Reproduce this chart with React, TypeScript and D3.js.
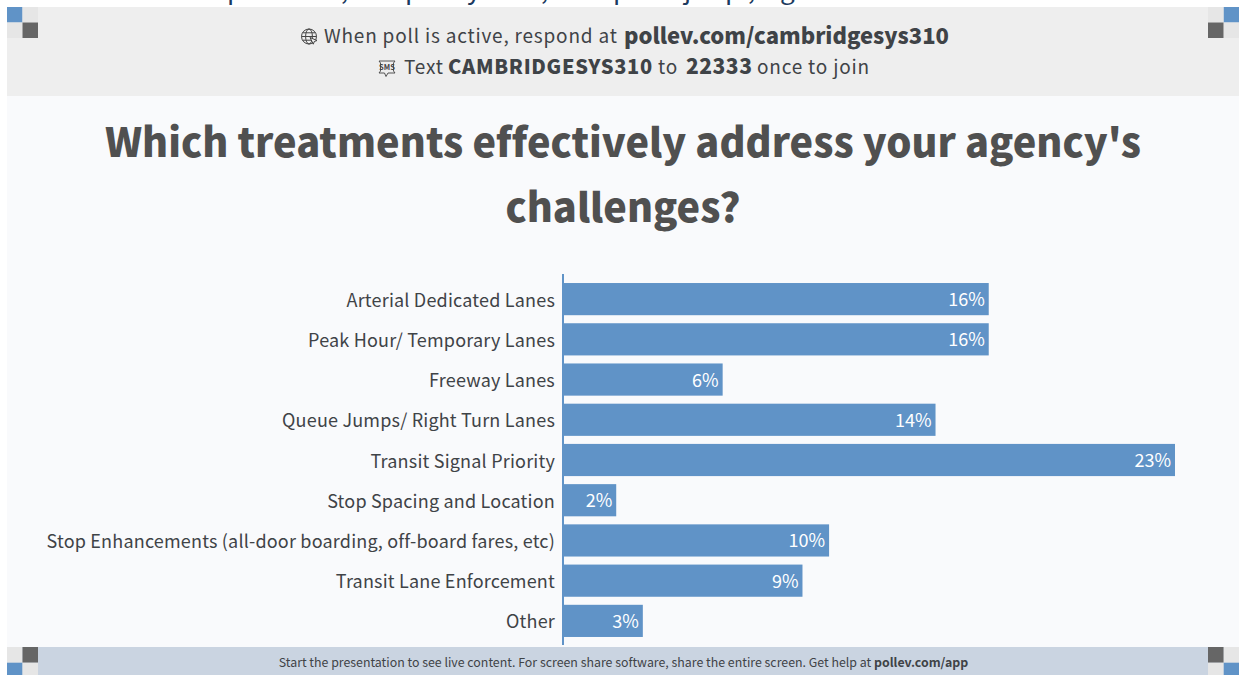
import React from "react";
import * as d3 from "d3";

const categories = [
  "Arterial Dedicated Lanes",
  "Peak Hour/ Temporary Lanes",
  "Freeway Lanes",
  "Queue Jumps/ Right Turn Lanes",
  "Transit Signal Priority",
  "Stop Spacing and Location",
  "Stop Enhancements (all-door boarding, off-board fares, etc)",
  "Transit Lane Enforcement",
  "Other",
];
const values = [16, 16, 6, 14, 23, 2, 10, 9, 3];

// Only the descenders of the line cut off at the top edge can be read.
const croppedGlyphs = ["p", ",", "p", "y", ",", "p", "j", "p", ",", "g"];
const croppedGlyphX = [227, 341, 405, 467, 541, 613, 684, 725, 748, 780];

const FONT = "'Noto Sans CJK SC', 'Noto Sans', sans-serif";
const W = 1239;
const H = 675;
const BLUE = "#6093c7";
const DARK = "#666666";
const LIGHT = "#e6e6e6";
const TEXT = "#3f4347";
const TITLE = "#505050";

const x = d3.scaleLinear().domain([0, 23]).range([563, 1175]);
const y = d3.scaleBand<string>().domain(categories).range([279, 641]).paddingInner(0.2).paddingOuter(0.1);

function Corner({ cx, cy, flipX, flipY }: { cx: number; cy: number; flipX: boolean; flipY: boolean }) {
  const s = 15.5;
  const ax = flipX ? cx - s : cx;
  const bx = flipX ? cx - 2 * s : cx + s;
  const ay = flipY ? cy - s : cy;
  const by = flipY ? cy - 2 * s : cy + s;
  return (
    <g>
      <rect x={ax} y={ay} width={s} height={s} fill={BLUE} />
      <rect x={bx} y={ay} width={s} height={s} fill={LIGHT} />
      <rect x={ax} y={by} width={s} height={s} fill={LIGHT} />
      <rect x={bx} y={by} width={s} height={s} fill={DARK} />
    </g>
  );
}

function GlobeIcon({ cx, cy }: { cx: number; cy: number }) {
  return (
    <g fill="none" stroke="#444" strokeWidth={1}>
      <circle cx={cx} cy={cy} r={7.5} />
      <ellipse cx={cx} cy={cy} rx={3.4} ry={7.5} />
      <path d={`M${cx - 7.5} ${cy}H${cx + 7.5}M${cx - 6.5} ${cy - 3.7}H${cx + 6.5}M${cx - 6.5} ${cy + 3.7}H${cx + 6.5}`} />
      <path d={`M${cx + 1} ${cy + 1}l7 3-2.7 1 -1 2.7z`} fill="#eeeeee" />
    </g>
  );
}

function SmsIcon({ cx, cy }: { cx: number; cy: number }) {
  return (
    <g>
      <path
        d={`M${cx - 8} ${cy - 7}h16l-1.5 2v8l1.5 2h-7l-2 3.5-1.5-3.5h-5.5l1.5-2v-8z`}
        fill="none"
        stroke="#444"
        strokeWidth={0.9}
      />
      <text x={cx} y={cy + 1.8} fontSize={7.5} fontWeight={700} textAnchor="middle" fill="#444" fontFamily={FONT}>
        SMS
      </text>
    </g>
  );
}

export default function App() {
  return (
    <svg
      width={W}
      height={H}
      viewBox={`0 0 ${W} ${H}`}
      style={{ position: "absolute", left: 0, top: 0, display: "block", background: "#ffffff" }}
      fontFamily={FONT}
    >
      <rect x={7} y={7} width={W - 7} height={H - 7} fill="#f9fafc" />
      <rect x={7} y={7} width={W - 7} height={89} fill="#eeeeee" />
      <rect x={7} y={647} width={W - 7} height={28} fill="#cad4e1" />

      {croppedGlyphs.map((g, i) => (
        <text key={i} x={croppedGlyphX[i]} y={-1} fontSize={26} fill="#1c3a5e">
          {g}
        </text>
      ))}

      <Corner cx={7} cy={7} flipX={false} flipY={false} />
      <Corner cx={W} cy={7} flipX={true} flipY={false} />
      <Corner cx={7} cy={678} flipX={false} flipY={true} />
      <Corner cx={W} cy={678} flipX={true} flipY={true} />

      <GlobeIcon cx={309} cy={36.5} />
      <text x={324} y={43} fontSize={19} letterSpacing={0.8} fill={TEXT}>
        When poll is active, respond at
      </text>
      <text x={624} y={43.5} fontSize={22} letterSpacing={0} fontWeight={900} fill={TEXT}>
        pollev.com/cambridgesys310
      </text>
      <SmsIcon cx={387} cy={68} />
      <text y={74} fontSize={19} letterSpacing={0.8} fill={TEXT}>
        <tspan x={404}>Text</tspan>
        <tspan x={448} fontWeight={900} fontSize={20} letterSpacing={0.7}>CAMBRIDGESYS310</tspan>
        <tspan x={658}>to</tspan>
        <tspan x={686} fontWeight={900} fontSize={21} letterSpacing={0.5}>22333</tspan>
        <tspan x={757}>once to join</tspan>
      </text>

      <text x={623} y={157} fontSize={39.7} fontWeight={900} textAnchor="middle" fill={TITLE} style={{ fontVariantLigatures: "none" }}>
        Which treatments effectively address your agency's
      </text>
      <text x={623} y={222} fontSize={39.7} fontWeight={900} textAnchor="middle" fill={TITLE}>
        challenges?
      </text>

      {categories.map((c, i) => {
        const by = y(c)!;
        const h = y.bandwidth();
        return (
          <g key={c}>
            <rect x={x(0)} y={by} width={x(values[i]) - x(0)} height={h} fill={BLUE} />
            <text x={555} y={by + h / 2 + 7.6} fontSize={18} letterSpacing={0.19} textAnchor="end" fill={TEXT}>
              {c}
            </text>
            <text x={x(values[i]) - 4} y={by + h / 2 + 7} fontSize={18} textAnchor="end" fill="#ffffff">
              {values[i]}%
            </text>
          </g>
        );
      })}
      <line x1={x(0)} x2={x(0)} y1={274} y2={645} stroke={BLUE} strokeWidth={2} />

      <text x={623.5} y={666.5} fontSize={12.36} textAnchor="middle" fill={TEXT}>
        Start the presentation to see live content. For screen share software, share the entire screen. Get help at{" "}
        <tspan fontWeight={700}>pollev.com/app</tspan>
      </text>
    </svg>
  );
}
